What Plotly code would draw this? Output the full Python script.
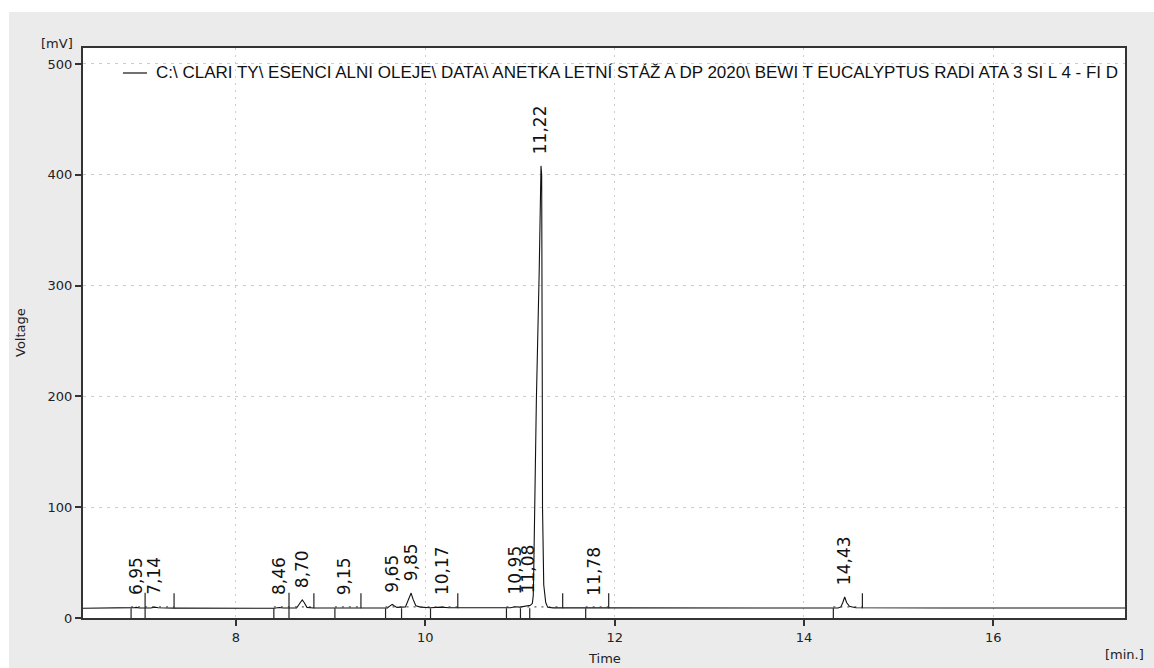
import plotly.graph_objects as go

# ---------------- data ----------------
time_min = [6.384, 6.90, 6.93, 6.95, 6.98, 7.10, 7.14, 7.18, 7.35,
            8.40, 8.44, 8.46, 8.50, 8.64, 8.68, 8.70, 8.72, 8.75, 8.82,
            9.10, 9.15, 9.20, 9.60, 9.63, 9.65, 9.67, 9.70, 9.79, 9.82, 9.85, 9.87, 9.90, 9.95,
            10.05, 10.17, 10.25, 10.90, 10.95, 11.00, 11.05, 11.08, 11.11, 11.13, 11.14,
            11.145, 11.148, 11.152, 11.173, 11.203, 11.214, 11.222, 11.229, 11.234, 11.236,
            11.238, 11.241, 11.251, 11.272, 11.293, 11.35, 11.78, 11.82,
            14.36, 14.39, 14.41, 14.43, 14.45, 14.48, 14.51, 14.55, 15.5, 17.391]
voltage_mv = [8.8, 8.8, 9.4, 9.6, 9.0, 9.0, 9.8, 9.2, 8.9,
              8.8, 9.3, 9.5, 9.0, 9.0, 14.0, 16.3, 14.0, 9.6, 9.0,
              9.0, 9.6, 9.1, 9.1, 11.2, 12.2, 11.0, 9.6, 10.0, 16.0, 22.5, 17.0, 11.0, 9.8,
              9.3, 9.8, 9.3, 9.3, 10.2, 9.8, 10.5, 11.5, 11.5, 13.0, 20.0,
              40.0, 61.0, 100.0, 196.0, 313.0, 400.0, 408.0, 400.0, 313.0, 196.0,
              100.0, 61.0, 30.0, 14.0, 9.6, 9.1, 9.6, 9.1,
              9.0, 10.0, 14.0, 19.0, 14.0, 10.5, 10.0, 9.2, 9.0, 9.0]

peak_rt = [6.95, 7.14, 8.46, 8.70, 9.15, 9.65, 9.85, 10.17, 10.95, 11.08, 11.22, 11.78, 14.43]
peak_top = [9.6, 9.8, 9.5, 16.3, 9.6, 12.2, 22.5, 9.8, 10.2, 11.5, 408.0, 9.6, 19.0]
peak_labels = ["6,95", "7,14", "8,46", "8,70", "9,15", "9,65", "9,85", "10,17",
               "10,95", "11,08", "11,22", "11,78", "14,43"]

start_marks = [6.892, 8.40, 9.045, 9.58, 9.749, 10.055, 10.857, 11.005, 11.103, 11.694, 14.31]
joint_marks = [7.04, 8.56]
end_marks = [7.346, 8.823, 9.32, 10.343, 11.451, 11.937, 14.617]
group_start = [6.892, 8.40, 9.045, 9.58, 10.857, 11.694, 14.31]
group_end = [7.346, 8.823, 9.32, 10.343, 11.451, 11.937, 14.617]
baseline_mv = 8.8

x_ticks = [8, 10, 12, 14, 16]
y_ticks = [0, 100, 200, 300, 400, 500]

legend_text = ("C:\\ CLARI TY\\ ESENCI ALNI OLEJE\\ DATA\\ ANETKA LETNÍ STÁŽ A DP 2020\\ "
               "BEWI T EUCALYPTUS RADI ATA 3 SI L 4 - FI D")

# ---------------- layout geometry ----------------
W, H = 1154, 668
L, R, T, B = 83, 1125, 48, 618


def px(x):
    return (x - L) / (R - L)


def py(y):
    return (B - y) / (B - T)


fig = go.Figure()
fig.add_trace(go.Scatter(x=time_min, y=voltage_mv, mode="lines",
                         line=dict(color="#111111", width=1.1),
                         name=legend_text, showlegend=False, hoverinfo="x+y"))

shapes = []
# white strips outside the gray panel
shapes.append(dict(type="rect", xref="paper", yref="paper", x0=px(0), x1=px(W), y0=py(12), y1=py(0),
                   fillcolor="white", line=dict(width=0), layer="below"))
shapes.append(dict(type="rect", xref="paper", yref="paper", x0=px(0), x1=px(9), y0=py(H), y1=py(0),
                   fillcolor="white", line=dict(width=0), layer="below"))

mark_line = dict(color="#222222", width=1.2)
for t in start_marks:
    shapes.append(dict(type="line", xref="x", yref="y", x0=t, x1=t, y0=0, y1=baseline_mv, line=mark_line))
for t in joint_marks:
    shapes.append(dict(type="line", xref="x", yref="y", x0=t, x1=t, y0=0, y1=baseline_mv + 14, line=mark_line))
for t in end_marks:
    shapes.append(dict(type="line", xref="x", yref="y", x0=t, x1=t, y0=baseline_mv, y1=baseline_mv + 13.5,
                       line=mark_line))
for a, b in zip(group_start, group_end):
    shapes.append(dict(type="line", xref="x", yref="y", x0=a, x1=b, y0=baseline_mv + 1.2, y1=baseline_mv + 1.2,
                       line=dict(color="#333333", width=1, dash="2px,5px")))

# legend sample line
shapes.append(dict(type="line", xref="paper", yref="paper", x0=px(123), x1=px(147), y0=py(73), y1=py(73),
                   line=dict(color="#111111", width=1.2)))

annotations = []
for rt, top, lab in zip(peak_rt, peak_top, peak_labels):
    annotations.append(dict(x=rt, y=top, xref="x", yref="y", text=lab, textangle=-90,
                            showarrow=False, xanchor="center", yanchor="bottom", yshift=10,
                            font=dict(family="DejaVu Sans", size=17, color="#111111")))

annotations.append(dict(x=px(154), y=py(72), xref="paper", yref="paper", text=legend_text,
                        showarrow=False, xanchor="left", yanchor="middle",
                        font=dict(family="Liberation Sans", size=17, color="#111111")))
annotations.append(dict(x=px(57), y=py(44), xref="paper", yref="paper", text="[mV]", showarrow=False,
                        xanchor="center", yanchor="middle",
                        font=dict(family="DejaVu Sans", size=13, color="#222222")))
annotations.append(dict(x=px(20), y=py(333), xref="paper", yref="paper", text="Voltage", showarrow=False,
                        textangle=-90, xanchor="center", yanchor="middle",
                        font=dict(family="DejaVu Sans", size=13, color="#222222")))
annotations.append(dict(x=px(604), y=py(658), xref="paper", yref="paper", text="Time", showarrow=False,
                        xanchor="center", yanchor="middle",
                        font=dict(family="DejaVu Sans", size=13, color="#222222")))
annotations.append(dict(x=px(1146), y=py(654), xref="paper", yref="paper", text="[min.]", showarrow=False,
                        xanchor="right", yanchor="middle",
                        font=dict(family="DejaVu Sans", size=13, color="#222222")))

fig.update_layout(
    width=W, height=H, autosize=False,
    margin=dict(l=L, r=W - R, t=T, b=H - B, pad=0),
    paper_bgcolor="#ebebeb", plot_bgcolor="white",
    showlegend=False,
    shapes=shapes, annotations=annotations,
    font=dict(family="DejaVu Sans", size=13, color="#222222"),
)
fig.update_xaxes(range=[6.384, 17.391], tickvals=x_ticks, ticktext=[str(v) for v in x_ticks],
                 showgrid=True, gridcolor="#cccccc", gridwidth=1, griddash="2px,5px",
                 showline=True, linecolor="#333333", linewidth=2, mirror=True,
                 ticks="outside", ticklen=6, tickcolor="#333333", tickwidth=1.5,
                 zeroline=False, tickfont=dict(size=13, color="#222222"))
fig.update_yaxes(range=[0, 514.4], tickvals=y_ticks, ticktext=[str(v) for v in y_ticks],
                 showgrid=True, gridcolor="#cccccc", gridwidth=1, griddash="3px,5px",
                 showline=True, linecolor="#333333", linewidth=2, mirror=True,
                 ticks="outside", ticklen=6, tickcolor="#333333", tickwidth=1.5,
                 zeroline=False, tickfont=dict(size=13, color="#222222"))

fig.write_html("out.html")
